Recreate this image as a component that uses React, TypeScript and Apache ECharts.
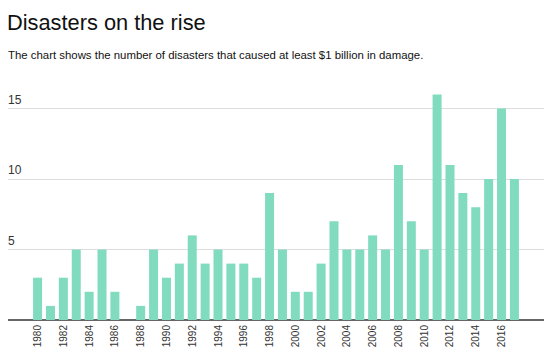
import React, { useEffect, useRef } from "react";
import * as echarts from "echarts";

const years: number[] = [
  1980, 1981, 1982, 1983, 1984, 1985, 1986, 1987, 1988, 1989,
  1990, 1991, 1992, 1993, 1994, 1995, 1996, 1997, 1998, 1999,
  2000, 2001, 2002, 2003, 2004, 2005, 2006, 2007, 2008, 2009,
  2010, 2011, 2012, 2013, 2014, 2015, 2016, 2017,
];
const disasters: number[] = [
  3, 1, 3, 5, 2, 5, 2, 0, 1, 5,
  3, 4, 6, 4, 5, 4, 4, 3, 9, 5,
  2, 2, 4, 7, 5, 5, 6, 5, 11, 7,
  5, 16, 11, 9, 8, 10, 15, 10,
];
const tickYears: number[] = [
  1980, 1982, 1984, 1986, 1988, 1990, 1992, 1994, 1996, 1998,
  2000, 2002, 2004, 2006, 2008, 2010, 2012, 2014, 2016,
];
const titleText = "Disasters on the rise";
const subtitleText =
  "The chart shows the number of disasters that caused at least $1 billion in damage.";

const FONT = "'Liberation Sans', Arial, Helvetica, sans-serif";

export default function App() {
  const ref = useRef<HTMLDivElement>(null);
  useEffect(() => {
    if (!ref.current) return;
    const chart = echarts.init(ref.current, undefined, { renderer: "svg" });
    chart.setOption({
      animation: false,
      backgroundColor: "#ffffff",
      title: [
        {
          text: titleText,
          left: 7,
          top: 11,
          padding: 0,
          textStyle: { fontFamily: FONT, fontSize: 21.8, fontWeight: 300, color: "#111" },
        },
        {
          text: subtitleText,
          left: 8,
          top: 49.5,
          padding: 0,
          textStyle: { fontFamily: FONT, fontSize: 11.4, fontWeight: "normal", color: "#111" },
        },
      ],
      grid: { left: 6, right: 6, top: 94.4, bottom: 38, containLabel: false },
      xAxis: {
        type: "value",
        min: 1977.55,
        max: 2019.45,
        splitLine: { show: false },
        axisTick: { show: false },
        axisLine: { show: true, onZero: false, lineStyle: { color: "#333", width: 1.5 } },
        axisLabel: {
          customValues: tickYears,
          rotate: 90,
          margin: 5,
          fontFamily: FONT,
          fontSize: 10,
          color: "#333",
          formatter: (v: number) => String(v),
        },
      },
      yAxis: {
        type: "value",
        min: 0,
        max: 16,
        interval: 5,
        axisLine: { show: false },
        axisTick: { show: false },
        axisLabel: {
          inside: true,
          showMinLabel: false,
          showMaxLabel: false,
          align: "left",
          verticalAlign: "bottom",
          margin: 2,
          padding: [0, 0, 3, 0],
          fontFamily: FONT,
          fontSize: 12,
          color: "#333",
        },
        splitLine: {
          show: true,
          showMinLine: false,
          showMaxLine: false,
          lineStyle: { color: "#dddddd", width: 1 },
        },
      },
      series: [
        {
          type: "bar",
          data: years.map((y, i) => [y, disasters[i]]),
          barWidth: 9,
          itemStyle: { color: "#80dbbf" },
          silent: true,
        },
      ],
    });
    return () => chart.dispose();
  }, []);
  return <div ref={ref} style={{ width: 552, height: 358, margin: -8 }} />;
}
